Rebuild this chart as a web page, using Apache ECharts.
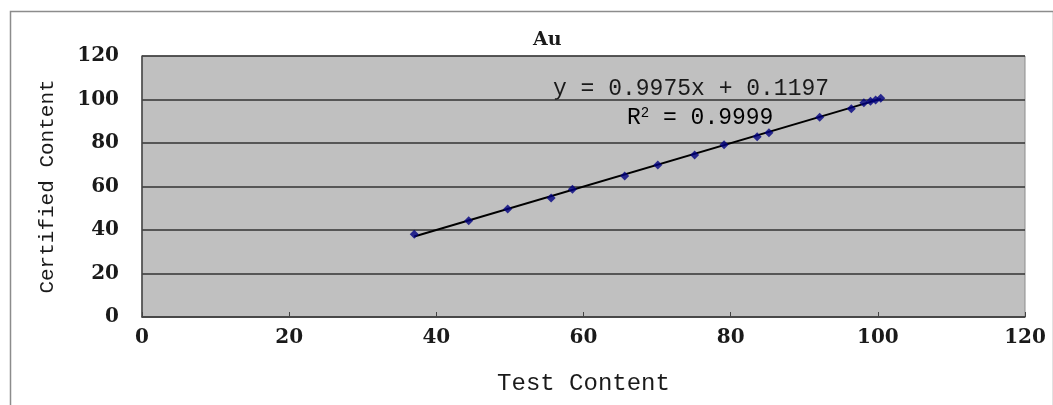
<!DOCTYPE html>
<html>
<head>
<meta charset="utf-8">
<script src="https://cdn.jsdelivr.net/npm/echarts@6/dist/echarts.min.js"></script>
<style>
html,body{margin:0;padding:0;background:#fff;}
#chart{width:1053px;height:405px;}
</style>
</head>
<body>
<div id="chart"></div>
<script>
const chartTitle = 'Au';
const xAxisName = 'Test Content';
const yAxisName = 'Certified Content';
const testContent =      [37.0, 44.4, 49.7, 55.6, 58.5, 65.6, 70.1, 75.1, 79.1, 83.6, 85.2, 92.1, 96.4, 98.1, 99.0, 99.7, 100.4];
const certifiedContent = [38.0, 44.3, 49.7, 54.7, 58.7, 64.8, 69.9, 74.5, 79.2, 82.9, 84.7, 91.8, 95.8, 98.5, 99.2, 99.8, 100.6];
const slope = 0.9975;
const intercept = 0.1197;
const rSquared = '0.9999';
const axisTicks = [0, 20, 40, 60, 80, 100, 120];

const points = testContent.map((x, i) => [x, certifiedContent[i]]);
const xMin = Math.min(...testContent), xMax = Math.max(...testContent);
const trend = [[xMin, slope * xMin + intercept], [xMax, slope * xMax + intercept]];

const chart = echarts.init(document.getElementById('chart'));
const tickFont = {fontFamily: 'DejaVu Serif', fontWeight: 'bold', fontSize: 20, color: '#1a1a1a'};
chart.setOption({
  animation: false,
  backgroundColor: '#ffffff',
  title: {
    text: chartTitle, left: 528, top: 26,
    textStyle: {fontFamily: 'DejaVu Serif', fontWeight: 'bold', fontSize: 19, color: '#1a1a1a'}
  },
  grid: {left: 142, right: 28, top: 56, bottom: 88, show: true, backgroundColor: '#c0c0c0', borderColor: '#8c8c8c', borderWidth: 1},
  xAxis: {
    type: 'value', min: axisTicks[0], max: axisTicks[axisTicks.length - 1], interval: 20,
    name: xAxisName, nameLocation: 'middle', nameGap: 55,
    nameTextStyle: {fontFamily: 'Liberation Mono', fontSize: 24, color: '#1a1a1a'},
    axisLine: {show: true, lineStyle: {color: '#444', width: 1.5}},
    axisTick: {show: true, inside: true, length: 5, lineStyle: {color: '#444'}},
    axisLabel: Object.assign({margin: 11}, tickFont),
    splitLine: {show: false}
  },
  yAxis: {
    type: 'value', min: axisTicks[0], max: axisTicks[axisTicks.length - 1], interval: 20,
    name: yAxisName, nameLocation: 'middle', nameGap: 84,
    nameTextStyle: {fontFamily: 'Liberation Mono', fontSize: 21, color: '#1a1a1a'},
    axisLine: {show: true, lineStyle: {color: '#444', width: 1.5}},
    axisTick: {show: false},
    axisLabel: Object.assign({margin: 23}, tickFont),
    splitLine: {show: true, lineStyle: {color: '#333', width: 1.5}}
  },
  graphic: [
    {type: 'text', left: 553, top: 77, style: {text: 'y = ' + slope.toFixed(4) + 'x + ' + intercept.toFixed(4), font: '23px "Liberation Mono"', fill: '#1a1a1a'}},
    {type: 'text', left: 627, top: 106, style: {
      text: '{a|R}{s|2}{a| = ' + rSquared + '}',
      rich: {a: {fontFamily: 'Liberation Mono', fontSize: 23, color: '#1a1a1a'},
             s: {fontFamily: 'Liberation Mono', fontSize: 14, color: '#1a1a1a', verticalAlign: 'top', padding: [0, 0, 8, 0]}}
    }},
    {type: 'rect', left: 8, top: 9, shape: {width: 1043, height: 420}, style: {fill: 'none', stroke: '#8c8c8c', lineWidth: 1.5}, z: -1}
  ],
  series: [
    {type: 'line', data: trend, symbol: 'none', lineStyle: {color: '#000', width: 2}, z: 2},
    {type: 'scatter', data: points, symbol: 'diamond', symbolSize: 9, itemStyle: {color: '#000080'}, z: 3}
  ]
});
</script>
</body>
</html>
